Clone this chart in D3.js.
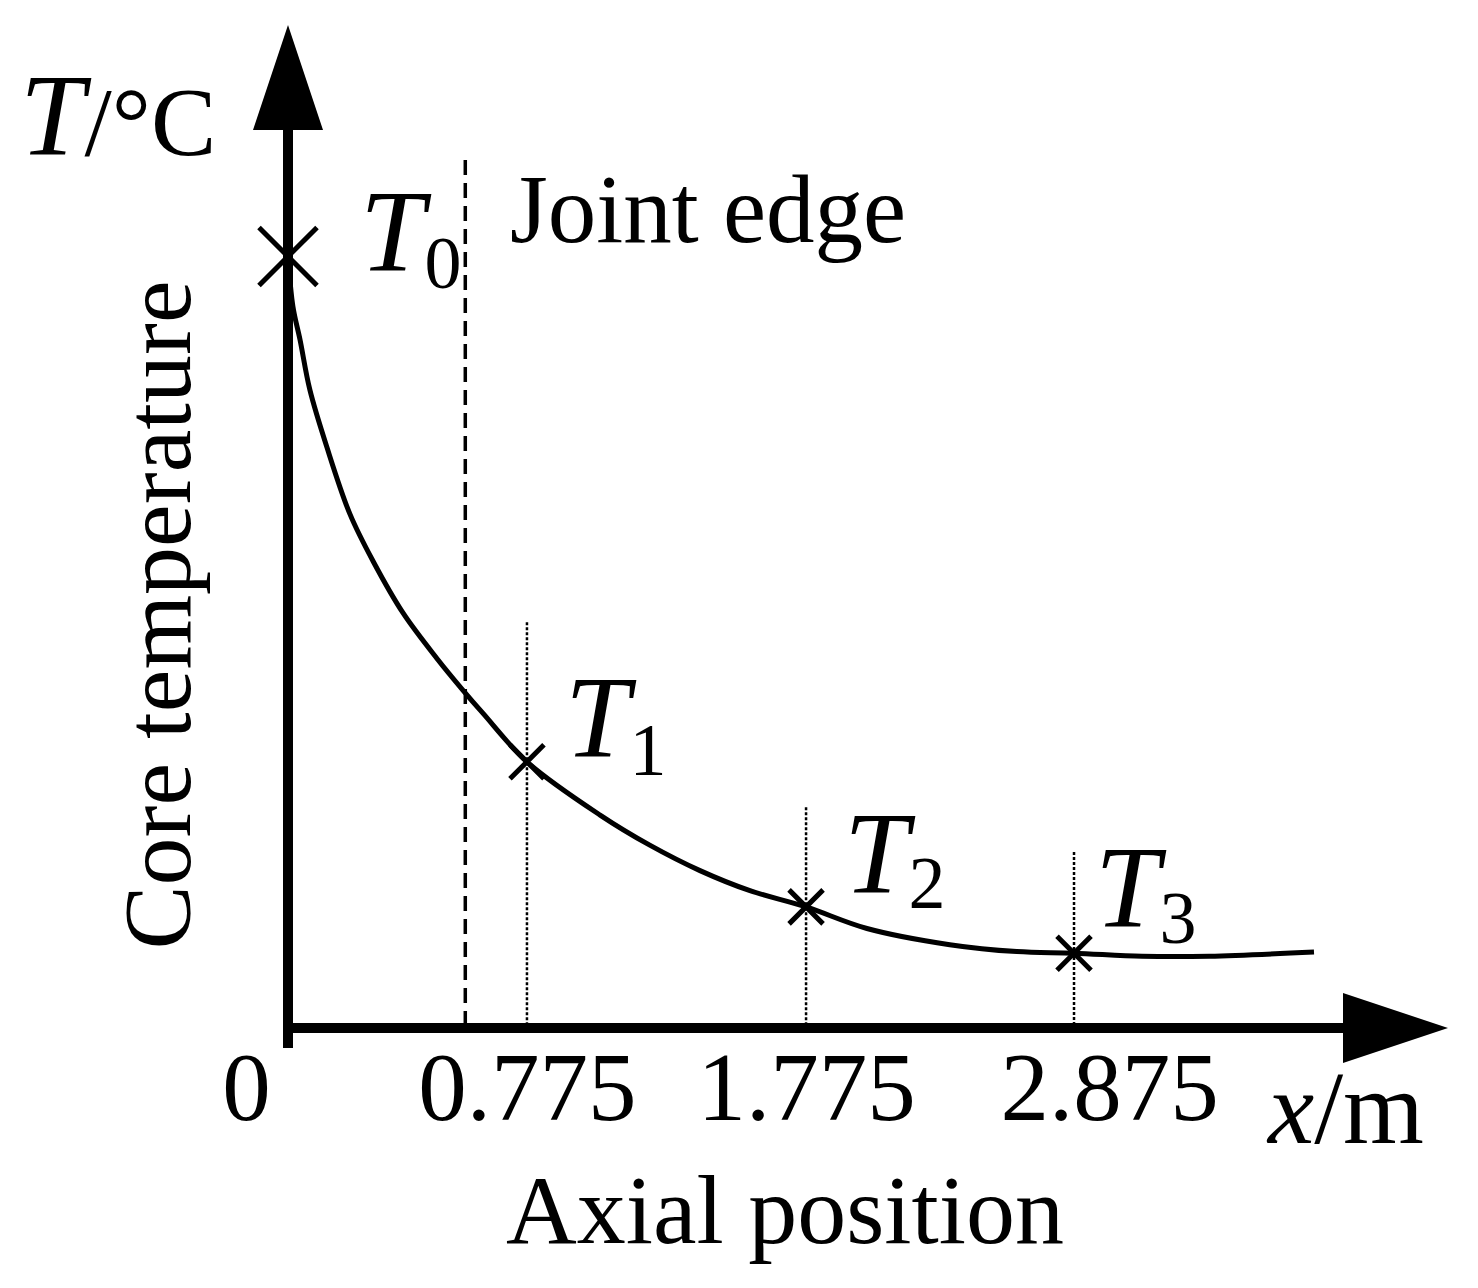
<!DOCTYPE html>
<html>
<head>
<meta charset="utf-8">
<script src="https://cdn.jsdelivr.net/npm/d3@7"></script>
<style>
    body { margin: 0; background: #fff; }
    svg { display: block; }
    text { font-family: "Liberation Serif", "Times New Roman", serif; fill: #000; }
</style>
</head>
<body>
<div id="chart"></div>
<script>
// axial position (m) vs core temperature (arbitrary units, T0 = 100)
const curveX = [0, 0.016, 0.039, 0.071, 0.126, 0.201, 0.276, 0.373, 0.483, 0.567, 0.632, 0.775,
    1.037, 1.215, 1.395, 1.574, 1.775, 2.025, 2.365, 2.640, 2.875, 3.154, 3.43, 3.86];
const curveT = [100, 93.5, 89.2, 82.7, 75.3, 66.6, 60.5, 53.8, 47.9, 43.8, 40.8, 34.5,
    27.6, 23.7, 20.4, 17.8, 15.7, 12.9, 10.8, 9.9, 9.7, 9.3, 9.3, 9.85];

// measuring points
const pointNames = ["0", "1", "2", "3"];
const pointX = [0, 0.775, 1.775, 2.875];
const pointT = [100, 34.5, 15.7, 9.7];
const guideTop = [null, 52.6, 28.6, 22.8];   // top of dotted guide lines

const jointEdgeX = 0.575;
const jointEdgeTop = 112.5;

const tickValues = [0, 0.775, 1.775, 2.875];
const tickLabels = ["0", "0.775", "1.775", "2.875"];

const width = 1478;
const height = 1288;
const margin = { top: 25, right: 30, bottom: 260, left: 288 };

const svg = d3.select("#chart").append("svg")
    .attr("width", width)
    .attr("height", height);

const x0 = margin.left, x1 = width - margin.right;
// schematic axis: not to scale, so piecewise linear between the marked positions
const xFrac = [0, 0.2060, 0.4466, 0.6776, 1];
const x = d3.scaleLinear()
    .domain([0, 0.775, 1.775, 2.875, 4.41])
    .range(xFrac.map(f => x0 + f * (x1 - x0)));

const y = d3.scaleLinear()
    .domain([0, 130])
    .range([height - margin.bottom, margin.top]);

const yBase = y(0);
const head = 105, headHalf = 35;

// axes
svg.append("line")
    .attr("x1", x(0)).attr("x2", x(0))
    .attr("y1", yBase + 20).attr("y2", y(130) + head)
    .attr("stroke", "#000").attr("stroke-width", 10);
svg.append("line")
    .attr("x1", x(0) - 5).attr("x2", x1 - head)
    .attr("y1", yBase).attr("y2", yBase)
    .attr("stroke", "#000").attr("stroke-width", 10);
svg.append("path")
    .attr("d", `M${x(0)},${y(130)} L${x(0) - headHalf},${y(130) + head} L${x(0) + headHalf},${y(130) + head}Z`)
    .attr("fill", "#000");
svg.append("path")
    .attr("d", `M${x1},${yBase} L${x1 - head},${yBase - headHalf} L${x1 - head},${yBase + headHalf}Z`)
    .attr("fill", "#000");

// tick labels
const labelShift = [-42, 0, 0, 35];
const xAxis = svg.append("g")
    .attr("transform", `translate(0,${yBase})`)
    .call(d3.axisBottom(x).tickValues(tickValues).tickSize(0).tickFormat((d, i) => tickLabels[i]));
xAxis.select(".domain").remove();
xAxis.selectAll("text")
    .attr("font-family", '"Liberation Serif", "Times New Roman", serif')
    .attr("font-size", 97)
    .attr("fill", "#000")
    .attr("dy", null)
    .attr("y", 92)
    .attr("dx", (d, i) => labelShift[i]);

// joint edge (dashed)
svg.append("line")
    .attr("x1", x(jointEdgeX)).attr("x2", x(jointEdgeX))
    .attr("y1", y(jointEdgeTop)).attr("y2", yBase - 5)
    .attr("stroke", "#000").attr("stroke-width", 3.5)
    .attr("stroke-dasharray", "15,8");

// dotted guides
svg.selectAll(".guide")
    .data(pointX.map((d, i) => ({ x: d, top: guideTop[i] })).filter(d => d.top !== null))
    .join("line")
    .attr("class", "guide")
    .attr("x1", d => x(d.x)).attr("x2", d => x(d.x))
    .attr("y1", d => y(d.top)).attr("y2", yBase - 5)
    .attr("stroke", "#000").attr("stroke-width", 2.5)
    .attr("stroke-dasharray", "3,2");

// temperature curve
const line = d3.line()
    .x((d, i) => x(curveX[i]))
    .y((d, i) => y(curveT[i]))
    .curve(d3.curveCatmullRom.alpha(0.5));
svg.append("path")
    .datum(curveX)
    .attr("d", line)
    .attr("fill", "none")
    .attr("stroke", "#000")
    .attr("stroke-width", 5);

// markers
const markSize = [29, 17, 17, 17];
svg.selectAll(".mark")
    .data(pointX.map((d, i) => ({ x: d, t: pointT[i], s: markSize[i] })))
    .join("path")
    .attr("class", "mark")
    .attr("d", d => {
        const cx = x(d.x), cy = y(d.t), s = d.s;
        return `M${cx - s},${cy - s}L${cx + s},${cy + s}M${cx - s},${cy + s}L${cx + s},${cy - s}`;
    })
    .attr("stroke", "#000")
    .attr("stroke-width", 5)
    .attr("fill", "none");

// point labels T0..T3
const labelDx = [72, 38, 38, 21];
const labelDy = [15, -5, -14, -26];
const subDy = [17, 18, 15, 16];
pointX.forEach((px, i) => {
    const t = svg.append("text")
        .attr("x", x(px) + labelDx[i])
        .attr("y", y(pointT[i]) + labelDy[i]);
    t.append("tspan")
        .attr("font-style", "italic")
        .attr("font-size", 116)
        .text("T");
    t.append("tspan")
        .attr("font-size", 74)
        .attr("dy", subDy[i])
        .text(pointNames[i]);
});

// axis titles
const yTitle = svg.append("text")
    .attr("x", 20)
    .attr("y", 155);
yTitle.append("tspan").attr("font-style", "italic").attr("font-size", 116).text("T");
yTitle.append("tspan").attr("font-size", 98).text("/°C");

const xTitle = svg.append("text")
    .attr("x", 1268)
    .attr("y", 1143);
xTitle.append("tspan").attr("font-style", "italic").attr("font-size", 104).text("x");
xTitle.append("tspan").attr("font-size", 104).text("/m");

svg.append("text")
    .attr("x", 510)
    .attr("y", 242)
    .attr("font-size", 97)
    .text("Joint edge");

svg.append("text")
    .attr("transform", `translate(190,615) rotate(-90)`)
    .attr("text-anchor", "middle")
    .attr("font-size", 96)
    .text("Core temperature");

svg.append("text")
    .attr("x", 785)
    .attr("y", 1243)
    .attr("text-anchor", "middle")
    .attr("font-size", 98)
    .text("Axial position");
</script>
</body>
</html>
